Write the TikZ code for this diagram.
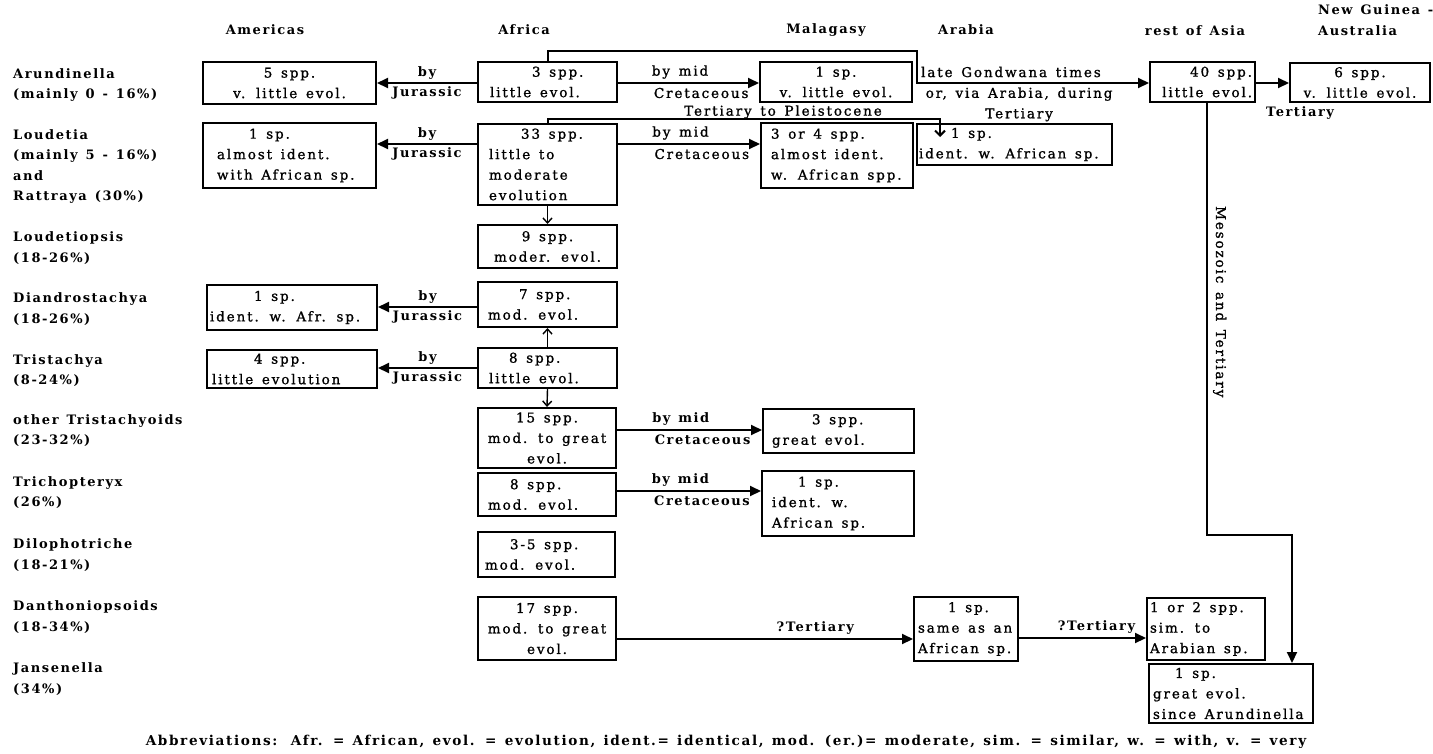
\documentclass[tikz,border=0pt]{standalone}
\usepackage{fontspec}
\setmainfont{DejaVu Serif}[LetterSpace=14, WordSpace=1.4, FakeBold=1.2]
\newfontfamily\bfam{DejaVu Serif}[LetterSpace=12, WordSpace=1.3]
\usetikzlibrary{arrows.meta}
\newcommand\lnb[1]{\mbox{\spaceskip=0pt\xspaceskip=0pt #1}}
\begin{document}
\begin{tikzpicture}[x=1pt,y=-1pt,
  every node/.style={font=\fontsize{13.5}{20.5}\selectfont, inner sep=0pt},
  bx/.style={draw, line width=2pt, inner ysep=0pt},
  lab/.style={font=\fontsize{13}{20.5}\bfam\bfseries, align=left, anchor=west},
  hd/.style={font=\fontsize{13}{20.5}\bfam\bfseries},
  jl/.style={font=\fontsize{13}{20.5}\bfam\bfseries},
  rl/.style={font=\fontsize{13.5}{20.5}\selectfont},
  ln/.style={line width=2pt},
  arr/.style={ln, -{Triangle[length=11pt,width=10pt]}},
  sar/.style={line width=1.4pt, -{Straight Barb[length=5pt,width=9pt]}},
]
\useasboundingbox (0,0) rectangle (1433,753);

% headers
\node[hd] (hAm) at (265,30) {Americas};
\node[hd] (hAf) at (524,30) {Africa};
\node[hd] (hMa) at (826,30) {Malagasy};
\node[hd] (hAr) at (966,30) {Arabia};
\node[hd] (hAs) at (1195,31) {rest of Asia};
\node[hd, align=left, anchor=west] (hNG) at (1318,20) {New Guinea -\\Australia};

% left labels
\node[lab] (lAru) at (13,85) {Arundinella\\(mainly 0 - 16\%)};
\node[lab] (lLou) at (13,166.5) {Loudetia\\(mainly 5 - 16\%)\\and\\Rattraya (30\%)};
\node[lab] (lLop) at (13,248) {Loudetiopsis\\(18-26\%)};
\node[lab] (lDia) at (13,309) {Diandrostachya\\(18-26\%)};
\node[lab] (lTri) at (13,370.5) {Tristachya\\(8-24\%)};
\node[lab] (lOth) at (13,430.5) {other Tristachyoids\\(23-32\%)};
\node[lab] (lTrp) at (13,492.5) {Trichopteryx\\(26\%)};
\node[lab] (lDil) at (13,555) {Dilophotriche\\(18-21\%)};
\node[lab] (lDan) at (13,617) {Danthoniopsoids\\(18-34\%)};
\node[lab] (lJan) at (13,679) {Jansenella\\(34\%)};

% Americas
\node[bx, align=center, minimum width=173pt, text width=165pt, minimum height=42pt] (am1) at (289.5,83) {\lnb{5 spp.}\\\lnb{v. little evol.}};
\node[bx, align=left, inner xsep=14pt, minimum width=173pt, text width=145pt, minimum height=65pt] (am2) at (289.5,155.5) {\hspace*{32pt}\lnb{1 sp.}\\\lnb{almost ident.}\\\lnb{with African sp.}};
\node[bx, align=left, inner xsep=3pt, minimum width=170pt, text width=164pt, minimum height=45pt] (am3) at (292,307.5) {\hspace*{44pt}\lnb{1 sp.}\\\lnb{ident. w. Afr. sp.}};
\node[bx, align=left, inner xsep=5pt, minimum width=170pt, text width=160pt, minimum height=38pt] (am4) at (292,369) {\hspace*{42pt}\lnb{4 spp.}\\\lnb{little evolution}};

% Africa
\node[bx, align=left, inner xsep=12pt, minimum width=139pt, text width=115pt, minimum height=40pt] (a1) at (547.5,82) {\hspace*{42pt}\lnb{3 spp.}\\\lnb{little evol.}};
\node[bx, align=left, inner xsep=11pt, minimum width=139pt, text width=117pt, minimum height=81pt] (a2) at (547.5,164.5) {\hspace*{32pt}\lnb{33 spp.}\\\lnb{little to}\\moderate\\evolution};
\node[bx, align=center, inner xsep=4pt, minimum width=139pt, text width=131pt, minimum height=43pt] (a3) at (547.5,246.5) {\lnb{9 spp.}\\\lnb{moder. evol.}};
\node[bx, align=left, inner xsep=10pt, minimum width=139pt, text width=119pt, minimum height=45pt] (a4) at (547.5,304.5) {\hspace*{31pt}\lnb{7 spp.}\\\lnb{mod. evol.}};
\node[bx, align=left, inner xsep=11pt, minimum width=139pt, text width=117pt, minimum height=40pt] (a5) at (547.5,368) {\hspace*{20pt}\lnb{8 spp.}\\\lnb{little evol.}};
\node[bx, align=center, inner xsep=4pt, minimum width=138pt, text width=130pt, minimum height=60pt] (a6) at (547,438) {\lnb{15 spp.}\\\lnb{mod. to great}\\evol.};
\node[bx, align=left, inner xsep=10pt, minimum width=138pt, text width=118pt, minimum height=43pt] (a7) at (547,494.5) {\hspace*{22pt}\lnb{8 spp.}\\\lnb{mod. evol.}};
\node[bx, align=left, inner xsep=7pt, minimum width=137pt, text width=123pt, minimum height=45pt] (a8) at (546.5,554.5) {\hspace*{25pt}\lnb{3-5 spp.}\\\lnb{mod. evol.}};
\node[bx, align=center, inner xsep=4pt, minimum width=138pt, text width=130pt, minimum height=63pt] (a9) at (547,628.5) {\lnb{17 spp.}\\\lnb{mod. to great}\\evol.};

% Malagasy
\node[bx, align=center, inner xsep=4pt, minimum width=152pt, text width=144pt, minimum height=40pt] (m1) at (836,82) {\lnb{1 sp.}\\\lnb{v. little evol.}};
\node[bx, align=left, inner xsep=10pt, minimum width=152pt, text width=132pt, minimum height=65pt] (m2) at (837,155.5) {\lnb{3 or 4 spp.}\\\lnb{almost ident.}\\\lnb{w. African spp.}};
\node[bx, align=left, inner xsep=9pt, minimum width=151pt, text width=133pt, minimum height=44pt] (m3) at (838.5,431) {\hspace*{40pt}\lnb{3 spp.}\\\lnb{great evol.}};
\node[bx, align=left, inner xsep=10pt, minimum width=152pt, text width=132pt, minimum height=65pt] (m4) at (838,503.5) {\hspace*{26pt}\lnb{1 sp.}\\\lnb{ident. w.}\\\lnb{African sp.}};

% Arabia
\node[bx, align=left, inner xsep=2pt, minimum width=195pt, text width=191pt, minimum height=41pt] (ar1) at (1014.5,144.5) {\hspace*{32pt}\lnb{1 sp.}\\\lnb{ident. w. African sp.}};
\node[bx, align=left, inner xsep=4pt, minimum width=104pt, text width=96pt, minimum height=64pt] (ar2) at (966,629) {\hspace*{30pt}\lnb{1 sp.}\\\lnb{same as an}\\\lnb{African sp.}};

% rest of Asia, New Guinea
\node[bx, align=right, inner xsep=3pt, minimum width=105pt, text width=99pt, minimum height=40pt] (as1) at (1202.5,82) {\lnb{40 spp.}\\\lnb{little evol.}};
\node[bx, align=center, inner xsep=4pt, minimum width=140pt, text width=132pt, minimum height=39pt] (ng) at (1360,82.5) {\lnb{6 spp.}\\\lnb{v. little evol.}};
\node[bx, align=left, inner xsep=3pt, minimum width=118pt, text width=112pt, minimum height=62pt] (as2) at (1206,629) {\lnb{1 or 2 spp.}\\\lnb{sim. to}\\\lnb{Arabian sp.}};
\node[bx, align=left, inner xsep=4pt, minimum width=164pt, text width=156pt, minimum height=59pt] (as3) at (1231,693.5) {\hspace*{22pt}\lnb{1 sp.}\\\lnb{great evol.}\\\lnb{since Arundinella}};

% Africa -> Americas
\draw[arr] (a1.west |- 0,83) -- node[jl, yshift=10pt]{by} node[jl, yshift=-10pt]{Jurassic} (am1.east |- 0,83);
\draw[arr] (a2.west |- 0,144) -- node[jl, yshift=10pt]{by} node[jl, yshift=-10pt]{Jurassic} (am2.east |- 0,144);
\draw[arr] (a4.west |- 0,307) -- node[jl, yshift=10pt]{by} node[jl, yshift=-10pt]{Jurassic} (am3.east |- 0,307);
\draw[arr] (a5.west |- 0,368) -- node[jl, yshift=10pt]{by} node[jl, yshift=-10pt]{Jurassic} (am4.east |- 0,368);

% Africa -> Malagasy
\draw[arr] (a1.east |- 0,83) -- node[rl, pos=0.44, yshift=11pt]{by mid} node[rl, pos=0.59, yshift=-10pt]{Cretaceous} (m1.west |- 0,83);
\draw[arr] (a2.east |- 0,144) -- node[rl, pos=0.44, yshift=11pt]{by mid} node[rl, pos=0.59, yshift=-10pt]{Cretaceous} (m2.west |- 0,144);
\draw[arr] (a6.east |- 0,430) -- node[jl, pos=0.44, yshift=11pt]{by mid} node[jl, pos=0.59, yshift=-10pt]{Cretaceous} (m3.west |- 0,430);
\draw[arr] (a7.east |- 0,491) -- node[jl, pos=0.44, yshift=11pt]{by mid} node[jl, pos=0.59, yshift=-10pt]{Cretaceous} (m4.west |- 0,491);

% Africa column arrows
\draw[sar] (a2.south) -- (a3.north);
\draw[sar] (a5.north) -- (a4.south);
\draw[sar] (a5.south) -- (a6.north);

% Gondwana route to rest of Asia
\coordinate (gw) at (917,83);
\draw[arr] (a1.north) -- (a1.north |- 0,51) -| (gw) -- node[rl, pos=0.405, yshift=11pt]{late Gondwana times} node[rl, pos=0.44, anchor=north, yshift=-3.5pt, align=center]{or, via Arabia, during\\Tertiary} (as1.west |- gw);

% Tertiary to Pleistocene route to Arabia
\coordinate (pl) at (940,137);
\draw[ln, -{Straight Barb[length=5pt,width=10pt]}] (a2.north) -- (a2.north |- 0,119) -| (pl);
\node[rl] (tp) at (783,112) {Tertiary to Pleistocene};

% Asia -> New Guinea
\draw[arr] (as1.east |- 0,83) -- (ng.west |- 0,83);
\node[jl] (tng) at (1300,113) {Tertiary};

% ?Tertiary routes
\draw[arr] (a9.east |- 0,639) -- node[jl, pos=0.67, yshift=11pt]{?Tertiary} (ar2.west |- 0,639);
\draw[arr] (ar2.east |- 0,638) -- node[jl, pos=0.61, yshift=11pt]{?Tertiary} (as2.west |- 0,638);

% Mesozoic and Tertiary
\coordinate (mz) at (1292,535);
\draw[arr] ([xshift=4.5pt]as1.south) |- node[rl, pos=0.23, rotate=-90, anchor=south, inner sep=5pt]{Mesozoic and Tertiary} (mz) -- (mz |- as3.north);

% abbreviations
\node[hd, font=\fontsize{13.6}{20.5}\bfam\bfseries] (abbr) at (726,742) {Abbreviations:\quad Afr. = African, evol. = evolution, ident.= identical, mod. (er.)= moderate, sim. = similar, w. = with, v. = very};
\end{tikzpicture}
\end{document}
